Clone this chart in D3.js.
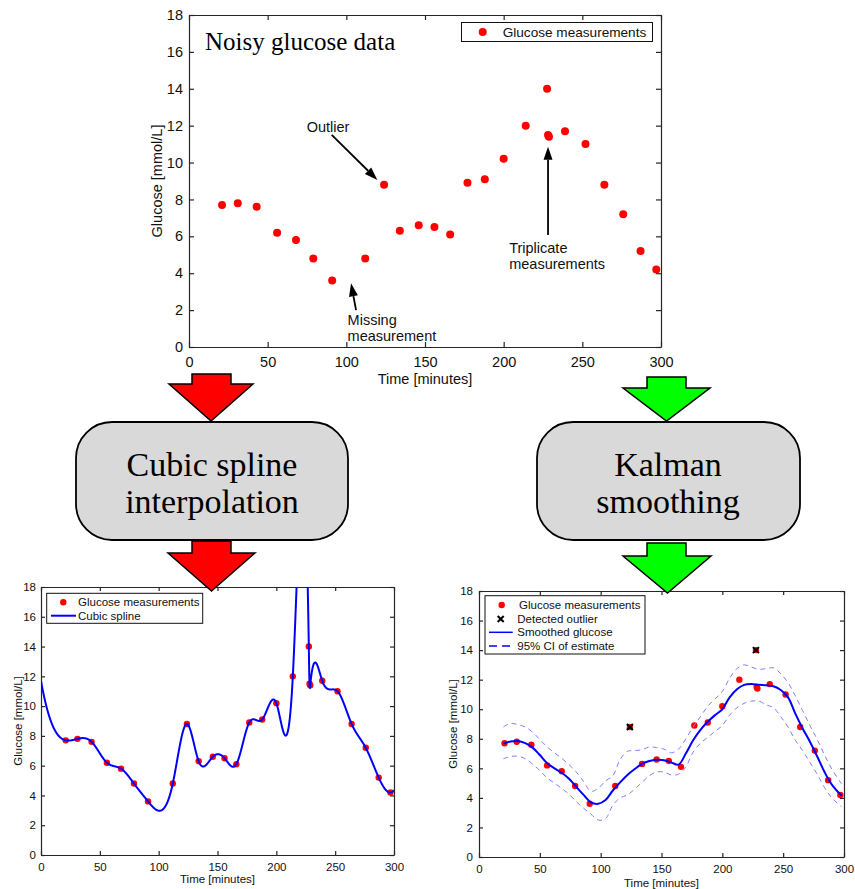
<!DOCTYPE html>
<html>
<head>
<meta charset="utf-8">
<script src="https://cdn.jsdelivr.net/npm/d3@7"></script>
<style>
  body { margin: 0; background: #fff; }
  svg { display: block; }
</style>
</head>
<body>
<svg id="fig" width="855" height="889"></svg>
<script>
// ---- measured glucose samples (time in minutes, mmol/L) ----
const sampleTimes = [21, 31, 43, 56, 68, 79, 91, 112, 124, 134, 146, 156, 166, 177, 188, 200, 214, 227.6, 228.2, 228.8, 239, 252, 264, 276, 287, 297];
const glucose     = [7.7, 7.8, 7.6, 6.2, 5.8, 4.8, 3.6, 4.8, 8.8, 6.3, 6.6, 6.5, 6.1, 8.9, 9.1, 10.2, 12.0, 14.0, 11.5, 11.4, 11.7, 11.0, 8.8, 7.2, 5.2, 4.2];

// ---- samples flagged as outliers by the smoother ----
const outlierTimes  = [124, 227.6];
const outlierValues = [8.8, 14.0];

// ---- Kalman smoother output and its 95% confidence band ----
const kalmanTimes = [20, 26, 32, 38, 44, 50, 56, 62, 68, 74, 80, 86, 92, 98, 104, 110, 116, 122, 128, 134, 140, 146, 152, 158, 164, 170, 176, 182, 188, 194, 200, 206, 212, 218, 224, 230, 236, 242, 248, 254, 260, 266, 272, 278, 284, 290, 298];
const smoothed    = [7.65, 7.82, 7.85, 7.7, 7.4, 6.9, 6.35, 6.0, 5.7, 5.3, 4.75, 4.2, 3.7, 3.6, 3.85, 4.5, 5.05, 5.55, 5.95, 6.3, 6.5, 6.58, 6.55, 6.4, 6.25, 7.0, 7.9, 8.6, 9.15, 9.6, 10.0, 10.8, 11.35, 11.65, 11.7, 11.65, 11.62, 11.55, 11.3, 10.8, 9.7, 8.7, 7.8, 6.8, 5.75, 4.9, 4.15];
const ciUpper     = [8.8, 9.04, 8.95, 8.8, 8.45, 7.95, 7.45, 7.05, 6.67, 6.25, 5.75, 5.1, 4.45, 4.65, 5.15, 5.5, 6.6, 7.15, 7.2, 7.25, 7.45, 7.4, 7.3, 7.05, 7.3, 8.0, 8.8, 9.5, 10.2, 10.7, 11.2, 12.1, 12.75, 13.0, 12.85, 12.7, 12.75, 12.8, 12.4, 11.8, 10.9, 9.9, 8.9, 7.95, 6.9, 5.95, 4.95];
const ciLower     = [6.65, 6.8, 6.82, 6.65, 6.3, 5.85, 5.35, 5.0, 4.64, 4.25, 3.74, 3.3, 2.9, 2.5, 2.6, 3.5, 4.0, 4.2, 4.6, 5.05, 5.5, 5.75, 5.75, 5.55, 5.6, 6.1, 7.1, 7.7, 8.1, 8.5, 8.9, 9.6, 10.1, 10.4, 10.55, 10.55, 10.3, 10.1, 9.5, 8.8, 7.9, 7.2, 6.4, 5.6, 4.7, 4.0, 3.4];

// ---- axis ticks ----
const xTicks = [0, 50, 100, 150, 200, 250, 300];
const yTicks = [0, 2, 4, 6, 8, 10, 12, 14, 16, 18];

const SANS = '"Liberation Sans", Arial, Helvetica, sans-serif';
const SERIF = '"Liberation Serif", "Times New Roman", serif';
const AXIS = "#262626";

const svg = d3.select("#fig");

// Cubic spline with not-a-knot end conditions, returns an evaluator.
function notAKnotSpline(xs, ys) {
  const n = xs.length;
  const h = d3.range(n - 1).map(i => xs[i + 1] - xs[i]);
  const A = d3.range(n).map(() => new Array(n).fill(0));
  const b = new Array(n).fill(0);
  A[0][0] = -h[1]; A[0][1] = h[0] + h[1]; A[0][2] = -h[0];
  for (let i = 1; i < n - 1; i++) {
    A[i][i - 1] = h[i - 1];
    A[i][i] = 2 * (h[i - 1] + h[i]);
    A[i][i + 1] = h[i];
    b[i] = 6 * ((ys[i + 1] - ys[i]) / h[i] - (ys[i] - ys[i - 1]) / h[i - 1]);
  }
  A[n - 1][n - 3] = -h[n - 2]; A[n - 1][n - 2] = h[n - 3] + h[n - 2]; A[n - 1][n - 1] = -h[n - 3];
  // Gaussian elimination with partial pivoting
  for (let c = 0; c < n; c++) {
    let p = c;
    for (let r = c + 1; r < n; r++) if (Math.abs(A[r][c]) > Math.abs(A[p][c])) p = r;
    [A[c], A[p]] = [A[p], A[c]]; [b[c], b[p]] = [b[p], b[c]];
    for (let r = c + 1; r < n; r++) {
      const f = A[r][c] / A[c][c];
      if (f === 0) continue;
      for (let k = c; k < n; k++) A[r][k] -= f * A[c][k];
      b[r] -= f * b[c];
    }
  }
  const M = new Array(n).fill(0);
  for (let r = n - 1; r >= 0; r--) {
    let s = b[r];
    for (let k = r + 1; k < n; k++) s -= A[r][k] * M[k];
    M[r] = s / A[r][r];
  }
  return function (t) {
    let i = d3.bisectRight(xs, t) - 1;
    i = Math.max(0, Math.min(n - 2, i));
    const hi = h[i], a = xs[i + 1] - t, c = t - xs[i];
    return M[i] * a * a * a / (6 * hi) + M[i + 1] * c * c * c / (6 * hi)
      + (ys[i] / hi - M[i] * hi / 6) * a + (ys[i + 1] / hi - M[i + 1] * hi / 6) * c;
  };
}

// Boxed MATLAB-style axes with inward ticks on all four sides.
function panel(cfg, id) {
  const x = d3.scaleLinear().domain([0, 300]).range([cfg.left, cfg.right]);
  const y = d3.scaleLinear().domain([0, 18]).range([cfg.bottom, cfg.top]);
  const g = svg.append("g");
  svg.append("clipPath").attr("id", id).append("rect")
    .attr("x", cfg.left).attr("y", cfg.top)
    .attr("width", cfg.right - cfg.left).attr("height", cfg.bottom - cfg.top);

  const style = sel => {
    sel.select(".domain").attr("stroke", AXIS).attr("stroke-width", cfg.lw);
    sel.selectAll(".tick line").attr("stroke", AXIS).attr("stroke-width", cfg.lw);
    sel.selectAll(".tick text").attr("fill", "#111").attr("font-family", SANS).attr("font-size", cfg.fs);
  };
  g.append("g").attr("transform", `translate(0,${cfg.bottom})`)
    .call(d3.axisBottom(x).tickValues(xTicks).tickSize(-cfg.tick).tickSizeOuter(0).tickPadding(cfg.xpad)).call(style);
  g.append("g").attr("transform", `translate(0,${cfg.top})`)
    .call(d3.axisTop(x).tickValues(xTicks).tickSize(-cfg.tick).tickSizeOuter(0).tickFormat("")).call(style);
  g.append("g").attr("transform", `translate(${cfg.left},0)`)
    .call(d3.axisLeft(y).tickValues(yTicks).tickSize(-cfg.tick).tickSizeOuter(0).tickPadding(cfg.ypad)).call(style);
  g.append("g").attr("transform", `translate(${cfg.right},0)`)
    .call(d3.axisRight(y).tickValues(yTicks).tickSize(-cfg.tick).tickSizeOuter(0).tickFormat("")).call(style);

  g.append("text").attr("x", (cfg.left + cfg.right) / 2).attr("y", cfg.xTitleY)
    .attr("text-anchor", "middle").attr("font-family", SANS).attr("font-size", cfg.fs)
    .attr("fill", "#111").text("Time [minutes]");
  g.append("text").attr("transform", `translate(${cfg.yTitleX},${(cfg.top + cfg.bottom) / 2}) rotate(-90)`)
    .attr("text-anchor", "middle").attr("font-family", SANS).attr("font-size", cfg.fs)
    .attr("fill", "#111").text("Glucose [mmol/L]");
  return { g, x, y };
}

function legendBox(g, x0, y0, x1, y1) {
  g.append("rect").attr("x", x0).attr("y", y0).attr("width", x1 - x0).attr("height", y1 - y0)
    .attr("fill", "#fff").attr("stroke", "#111").attr("stroke-width", 1);
}
function legendText(g, x, y, fs, s) {
  g.append("text").attr("x", x).attr("y", y).attr("dy", "0.35em").attr("font-family", SANS)
    .attr("font-size", fs).attr("fill", "#111").text(s);
}
function crossMark(g, cx, cy, r) {
  g.append("path").attr("d", `M${cx - r},${cy - r}L${cx + r},${cy + r}M${cx - r},${cy + r}L${cx + r},${cy - r}`)
    .attr("stroke", "#000").attr("stroke-width", 2);
}

// ================= top: raw measurements =================
{
  const { g, x, y } = panel({ left: 189, right: 661, top: 15, bottom: 347, tick: 5, lw: 1.2, fs: 14.5,
    xpad: 10, ypad: 6, xTitleY: 384, yTitleX: 162 }, "clipTop");

  g.append("text").attr("x", 205).attr("y", 50).attr("font-family", SERIF).attr("font-size", 25)
    .attr("fill", "#000").text("Noisy glucose data");

  g.append("g").selectAll("circle").data(sampleTimes).join("circle")
    .attr("cx", d => x(d)).attr("cy", (d, i) => y(glucose[i])).attr("r", 4).attr("fill", "#ff0000");

  legendBox(g, 461.5, 22.5, 652.5, 41.5);
  g.append("circle").attr("cx", 482.7).attr("cy", 32).attr("r", 4).attr("fill", "#ff0000");
  legendText(g, 502.7, 32, 13.6, "Glucose measurements");

  // annotation arrows
  const arrow = (x1, y1, x2, y2) => {
    const ang = Math.atan2(y2 - y1, x2 - x1), L = 13, W = 4.5;
    const bx = x2 - L * Math.cos(ang), by = y2 - L * Math.sin(ang);
    g.append("line").attr("x1", x1).attr("y1", y1).attr("x2", bx).attr("y2", by)
      .attr("stroke", "#000").attr("stroke-width", 1.8);
    g.append("path").attr("d", `M${x2},${y2}L${bx - W * Math.sin(ang)},${by + W * Math.cos(ang)}L${bx + W * Math.sin(ang)},${by - W * Math.cos(ang)}Z`)
      .attr("fill", "#000");
  };
  const ann = (t, v, lines) => lines.forEach((s, k) =>
    g.append("text").attr("x", x(t)).attr("y", y(v) + k * 16.5).attr("font-family", SANS)
      .attr("font-size", 14.5).attr("fill", "#111").text(s));

  ann(74.8, 11.65, ["Outlier"]);
  arrow(x(90.7), y(11.5), x(119.7), y(9.06));
  ann(100.8, 1.2, ["Missing", "measurement"]);
  arrow(x(106.2), y(2.0), x(103), y(3.45));
  ann(203.5, 5.1, ["Triplicate", "measurements"]);
  arrow(x(228.2), y(6.07), x(228.2), y(10.86));
}

// ================= bottom-left: cubic spline =================
{
  const { g, x, y } = panel({ left: 41, right: 394, top: 587, bottom: 855, tick: 4, lw: 1.2, fs: 11.5,
    xpad: 7.5, ypad: 5, xTitleY: 883, yTitleX: 22 }, "clipLeft");

  g.append("g").selectAll("circle").data(sampleTimes).join("circle")
    .attr("cx", d => x(d)).attr("cy", (d, i) => y(glucose[i])).attr("r", 3.2).attr("fill", "#ff0000");

  const spline = notAKnotSpline(sampleTimes, glucose);
  const grid = d3.range(0, 300.001, 0.05);
  g.append("path").datum(grid).attr("clip-path", "url(#clipLeft)")
    .attr("d", d3.line().x(t => x(t)).y(t => y(Math.max(-50, Math.min(80, spline(t))))))
    .attr("fill", "none").attr("stroke", "#0000ff").attr("stroke-width", 2);

  legendBox(g, 46.7, 593.3, 202.7, 623.3);
  g.append("circle").attr("cx", 63.3).attr("cy", 602.3).attr("r", 3.2).attr("fill", "#ff0000");
  g.append("line").attr("x1", 51).attr("x2", 76).attr("y1", 615.7).attr("y2", 615.7)
    .attr("stroke", "#0000ff").attr("stroke-width", 2);
  legendText(g, 78, 602.3, 11.5, "Glucose measurements");
  legendText(g, 78, 615.7, 11.5, "Cubic spline");
}

// ================= bottom-right: Kalman smoothing =================
{
  const { g, x, y } = panel({ left: 479, right: 844, top: 591, bottom: 857, tick: 4, lw: 1.2, fs: 11.5,
    xpad: 8, ypad: 6, xTitleY: 887, yTitleX: 456.5 }, "clipRight");

  g.append("g").selectAll("circle").data(sampleTimes).join("circle")
    .attr("cx", d => x(d)).attr("cy", (d, i) => y(glucose[i])).attr("r", 3.2).attr("fill", "#ff0000");
  outlierTimes.forEach((t, i) => crossMark(g, x(t), y(outlierValues[i]), 3));

  const line = arr => d3.line().x((t, i) => x(t)).y((t, i) => y(arr[i])).curve(d3.curveCatmullRom.alpha(0.5));
  g.append("path").datum(kalmanTimes).attr("d", line(ciUpper))
    .attr("fill", "none").attr("stroke", "#7f7fff").attr("stroke-width", 1).attr("stroke-dasharray", "5,4");
  g.append("path").datum(kalmanTimes).attr("d", line(ciLower))
    .attr("fill", "none").attr("stroke", "#7f7fff").attr("stroke-width", 1).attr("stroke-dasharray", "5,4");
  g.append("path").datum(kalmanTimes).attr("d", line(smoothed))
    .attr("fill", "none").attr("stroke", "#0000ff").attr("stroke-width", 2);

  legendBox(g, 485, 595.7, 645, 654);
  g.append("circle").attr("cx", 501.7).attr("cy", 605).attr("r", 3.2).attr("fill", "#ff0000");
  crossMark(g, 500.7, 619, 3);
  g.append("line").attr("x1", 489).attr("x2", 512.7).attr("y1", 632.3).attr("y2", 632.3)
    .attr("stroke", "#0000ff").attr("stroke-width", 1.5);
  g.append("line").attr("x1", 489).attr("x2", 512.7).attr("y1", 646).attr("y2", 646)
    .attr("stroke", "#0000ff").attr("stroke-width", 1.5).attr("stroke-dasharray", "8,5");
  legendText(g, 519, 605, 11.5, "Glucose measurements");
  legendText(g, 517.3, 619, 11.5, "Detected outlier");
  legendText(g, 517.3, 632.3, 11.5, "Smoothed glucose");
  legendText(g, 517.3, 646, 11.5, "95% CI of estimate");
}

// ================= process diagram: block arrows and boxes =================
const diagram = svg.append("g");
function blockArrow(a, fill) {
  const pts = [[a.sl, a.y0], [a.sr, a.y0], [a.sr, a.y1], [a.hr, a.y1], [a.tx, a.y2], [a.hl, a.y1], [a.sl, a.y1]];
  diagram.append("path").attr("d", d3.line()(pts) + "Z").attr("fill", fill)
    .attr("stroke", "#000").attr("stroke-width", 1.5).attr("stroke-linejoin", "miter");
}
function processBox(x0, y0, x1, y1, lines, cx) {
  diagram.append("rect").attr("x", x0).attr("y", y0).attr("width", x1 - x0).attr("height", y1 - y0)
    .attr("rx", 36).attr("ry", 36).attr("fill", "#d9d9d9").attr("stroke", "#000").attr("stroke-width", 1.8);
  lines.forEach((s, k) => diagram.append("text").attr("x", cx).attr("y", 476 + k * 37)
    .attr("text-anchor", "middle").attr("font-family", SERIF).attr("font-size", 34).attr("fill", "#000").text(s));
}

blockArrow({ sl: 192, sr: 231, y0: 374, y1: 384, hl: 169, hr: 253, tx: 211, y2: 421 }, "#ff0000");
blockArrow({ sl: 647, sr: 686, y0: 377, y1: 388, hl: 623, hr: 710, tx: 666.5, y2: 421 }, "#00ff00");
processBox(76, 422, 348, 540, ["Cubic spline", "interpolation"], 212);
processBox(537, 422, 800, 540, ["Kalman", "smoothing"], 668);
blockArrow({ sl: 192, sr: 231, y0: 541, y1: 553, hl: 168, hr: 255, tx: 211.5, y2: 591 }, "#ff0000");
blockArrow({ sl: 647, sr: 686, y0: 543, y1: 556, hl: 623, hr: 711, tx: 667.5, y2: 593 }, "#00ff00");
</script>
</body>
</html>
